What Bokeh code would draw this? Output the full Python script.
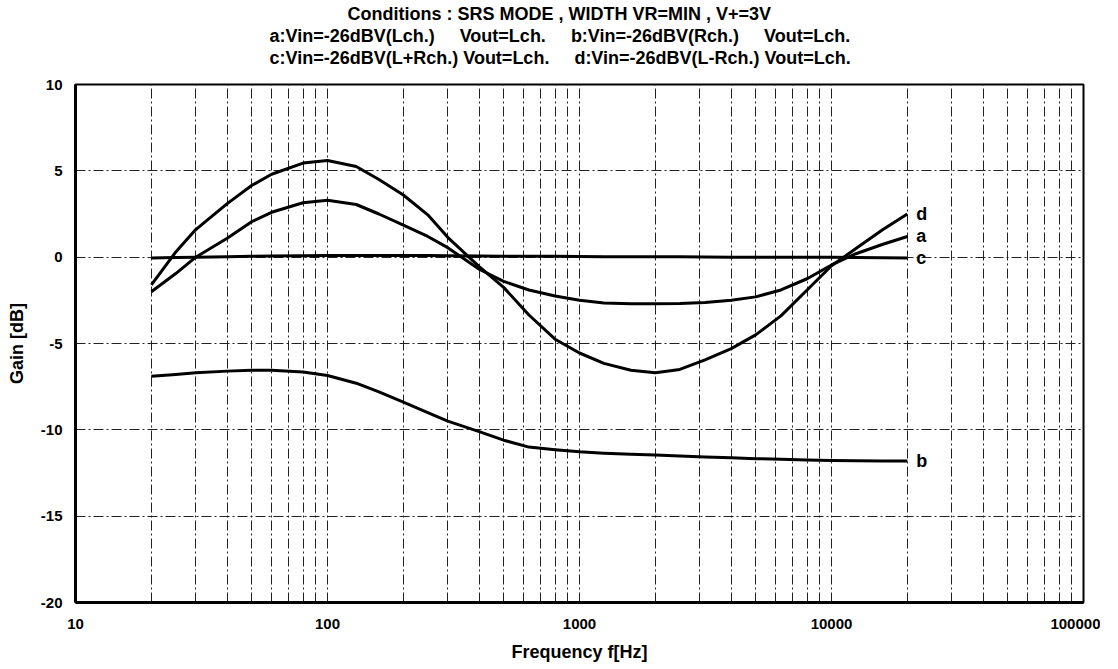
from bokeh.plotting import figure
from bokeh.models import FixedTicker, CustomJSTickFormatter, Label, Title
from bokeh.embed import file_html
from bokeh.resources import INLINE

# ---- data ----
freq = [20, 25, 30, 40, 50, 60, 80, 100, 130, 160, 200, 250, 300, 400, 500, 630,
        800, 1000, 1250, 1600, 2000, 2500, 3150, 4000, 5000, 6300, 8000, 10000,
        12500, 16000, 20000]
gain_a = [-2.0, -0.95, 0.0, 1.1, 2.05, 2.6, 3.15, 3.3, 3.05, 2.5, 1.85, 1.2, 0.55, -0.7,
          -1.4, -1.9, -2.25, -2.5, -2.65, -2.7, -2.7, -2.68, -2.62, -2.5, -2.3, -1.9,
          -1.25, -0.45, 0.2, 0.75, 1.2]
gain_b = [-6.9, -6.8, -6.7, -6.6, -6.55, -6.55, -6.65, -6.85, -7.3, -7.8, -8.4, -9.0,
          -9.5, -10.1, -10.6, -11.0, -11.15, -11.27, -11.35, -11.42, -11.46, -11.52,
          -11.57, -11.62, -11.67, -11.7, -11.74, -11.77, -11.79, -11.8, -11.8]
gain_c = [-0.05, -0.02, 0.0, 0.03, 0.05, 0.07, 0.08, 0.1, 0.1, 0.1, 0.1, 0.1, 0.08,
          0.07, 0.06, 0.05, 0.05, 0.04, 0.03, 0.03, 0.02, 0.02, 0.01, 0.0, 0.0, 0.0,
          0.0, 0.0, -0.02, -0.04, -0.05]
gain_d = [-1.6, 0.3, 1.6, 3.1, 4.15, 4.8, 5.45, 5.6, 5.25, 4.5, 3.6, 2.45, 1.15, -0.55,
          -1.75, -3.35, -4.75, -5.55, -6.15, -6.55, -6.7, -6.5, -5.95, -5.3, -4.5, -3.4,
          -1.9, -0.5, 0.5, 1.6, 2.5]
series_names = ["a", "b", "c", "d"]

x_major = [10, 100, 1000, 10000, 100000]
x_minor = [m * d for d in [10, 100, 1000, 10000] for m in range(2, 10)]
y_ticks = [-20, -15, -10, -5, 0, 5, 10]

NB = "\u00a0"
title_lines = [
    "Conditions : SRS MODE , WIDTH VR=MIN , V+=3V",
    "a:Vin=-26dBV(Lch.)" + NB * 5 + "Vout=Lch." + NB * 5 + "b:Vin=-26dBV(Rch.)" + NB * 5 + "Vout=Lch.",
    "c:Vin=-26dBV(L+Rch.) Vout=Lch." + NB * 5 + "d:Vin=-26dBV(L-Rch.) Vout=Lch.",
]
# left offsets (px from frame left) of each title line
title_offsets = [272, 194, 194]

FONT = "Liberation Sans"

p = figure(width=1100, height=664, x_axis_type="log", x_range=(10, 100000),
           y_range=(-20, 10), output_backend="svg", toolbar_location=None,
           min_border_left=75, min_border_right=17, min_border_top=84,
           min_border_bottom=61, background_fill_color="white",
           border_fill_color="white")

p.outline_line_color = "black"
p.outline_line_width = 2

p.xaxis.ticker = FixedTicker(ticks=x_major, minor_ticks=x_minor)
p.yaxis.ticker = FixedTicker(ticks=y_ticks)
fmt = "return tick.toFixed(0);"
p.xaxis.formatter = CustomJSTickFormatter(code=fmt)
p.yaxis.formatter = CustomJSTickFormatter(code=fmt)

for ax in (p.xaxis, p.yaxis):
    ax.major_tick_line_color = None
    ax.minor_tick_line_color = None
    ax.major_tick_out = 0
    ax.major_tick_in = 0
    ax.axis_line_color = "black"
    ax.axis_line_width = 3
    ax.major_label_text_font = FONT
    ax.major_label_text_font_style = "bold"
    ax.major_label_text_font_size = "15px"
    ax.major_label_text_color = "black"
    ax.axis_label_text_font = FONT
    ax.axis_label_text_font_style = "bold"
    ax.axis_label_text_font_size = "18px"
    ax.axis_label_text_color = "black"

p.xaxis.axis_label = "Frequency f[Hz]"
p.yaxis.axis_label = "Gain [dB]"
p.xaxis.major_label_standoff = 12
p.yaxis.major_label_standoff = 13
p.xaxis.axis_label_standoff = 10
p.yaxis.axis_label_standoff = 11

dash = "10 3 2 3"
p.xgrid.grid_line_color = "#222222"
p.xgrid.grid_line_dash = dash
p.xgrid.grid_line_width = 1
p.xgrid.minor_grid_line_color = "#222222"
p.xgrid.minor_grid_line_dash = dash
p.xgrid.minor_grid_line_width = 1
p.ygrid.grid_line_color = "#222222"
p.ygrid.grid_line_dash = dash
p.ygrid.grid_line_width = 1

series = {"a": gain_a, "b": gain_b, "c": gain_c, "d": gain_d}
for name in series_names:
    vals = series[name]
    p.line(freq, vals, line_color="black", line_width=3, line_join="round")
    p.add_layout(Label(x=freq[-1], y=vals[-1], text=name, x_offset=9,
                       text_align="left", text_baseline="middle",
                       text_font=FONT, text_font_style="bold",
                       text_font_size="18px", text_color="black"))

# spacer between frame and title block (blank, first added = closest to frame)
p.add_layout(Title(text=NB, align="left", standoff=0, text_font=FONT,
                   text_font_size="13px", text_color="white"), "above")
for txt, off in zip(reversed(title_lines), reversed(title_offsets)):
    p.add_layout(Title(text=txt, align="left", offset=off, standoff=0,
                       text_font=FONT, text_font_style="bold",
                       text_font_size="18px", text_color="black"), "above")

open("out.html", "w").write(file_html(p, INLINE))
